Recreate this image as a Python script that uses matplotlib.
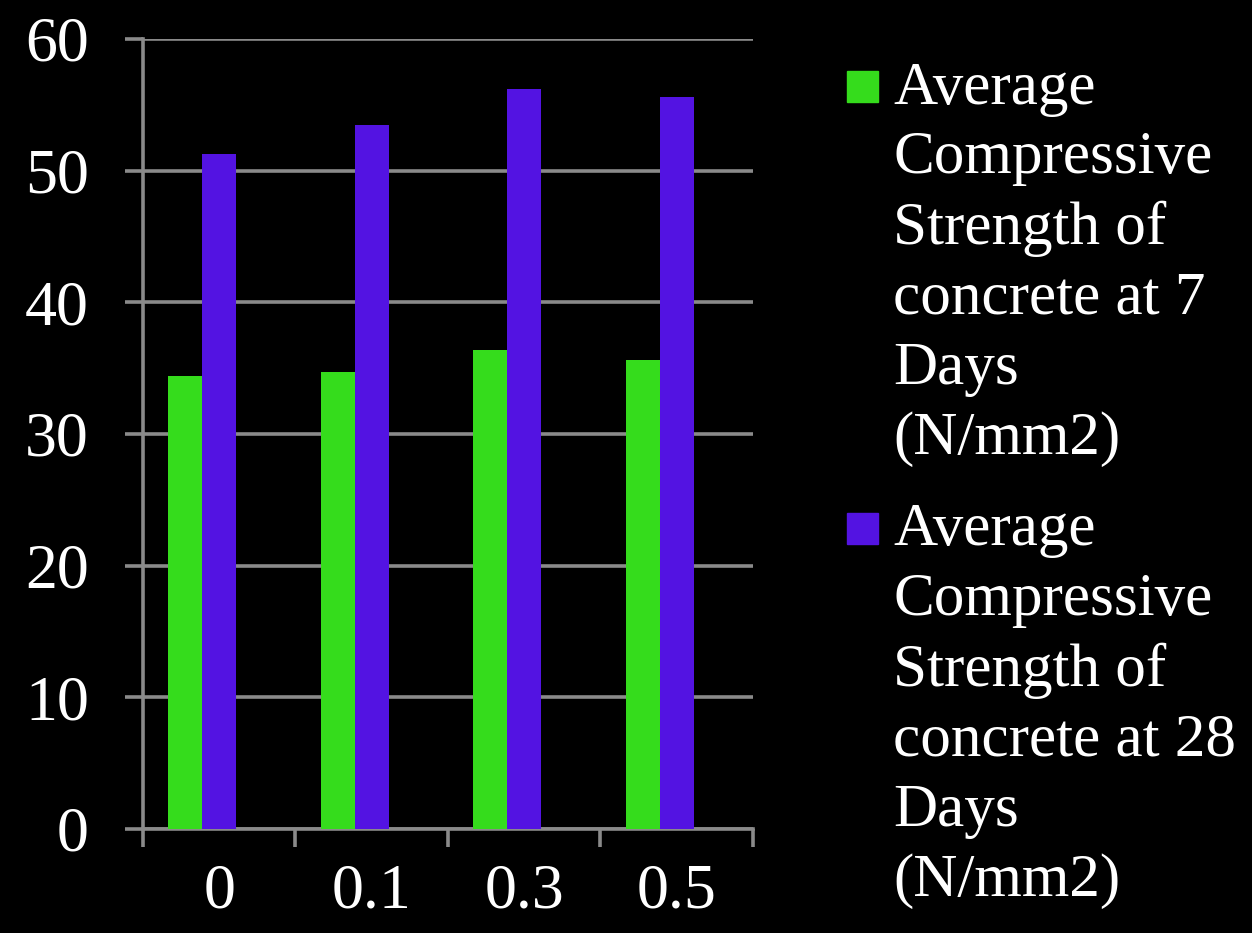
import numpy as np
import matplotlib
import matplotlib.pyplot as plt
from matplotlib.patches import Rectangle

matplotlib.use("Agg")

# Fibre content (%) on the x axis and average strengths in N/mm2
categories = ["0", "0.1", "0.3", "0.5"]
strength7 = [34.4, 34.7, 36.4, 35.6]
strength28 = [51.3, 53.5, 56.2, 55.6]
labels = ["Average\nCompressive\nStrength of\nconcrete at 7\nDays\n(N/mm2)",
          "Average\nCompressive\nStrength of\nconcrete at 28\nDays\n(N/mm2)"]
yTicks = [0, 10, 20, 30, 40, 50, 60]

green = "#35dc1c"
purple = "#5313e2"
grey = "#8a8a8a"

plt.rcParams["font.family"] = ["Liberation Serif", "DejaVu Serif"]

fig = plt.figure(figsize=(12.52, 9.33), dpi=100, facecolor="black")
ax = fig.add_axes([0.1142, 0.1115, 0.4872, 0.8467], facecolor="black")

x = np.arange(len(categories))
width = 0.222 # three slot cluster, third slot empty
ax.bar(x - width, strength7, width, color=green, zorder=3)
ax.bar(x, strength28, width, color=purple, zorder=3)

ax.set_xlim(-0.5, len(categories) - 0.5)
ax.set_ylim(0, 60)

# Gridlines and axes in grey
ax.set_yticks(yTicks)
ax.yaxis.grid(True, color=grey, linewidth=2.6, zorder=1)
ax.set_axisbelow(True)
for side in ["top", "right"]:
  ax.spines[side].set_visible(False)
for side in ["left", "bottom"]:
  ax.spines[side].set_color(grey)
  ax.spines[side].set_linewidth(2.6)

ax.tick_params(axis="y", colors=grey, length=13, width=2.6, pad=26, labelcolor="white", labelsize=46)

# Ticks between groups, labels at group centres
ax.set_xticks(np.arange(len(categories) + 1) - 0.5)
ax.set_xticklabels([])
ax.set_xticks(x, minor=True)
ax.set_xticklabels(categories, minor=True)
ax.tick_params(axis="x", which="major", colors=grey, length=13, width=2.6)
ax.tick_params(axis="x", which="minor", length=0, pad=25, labelcolor="white", labelsize=46)

# Legend built by hand: coloured square plus wrapped text
legendTops = [0.9346, 0.461]
for colour, label, top in zip([green, purple], labels, legendTops):
  fig.patches.append(Rectangle((847 / 1252, top - 0.044), 31 / 1252, 31 / 933,
                               transform=fig.transFigure, color=colour))
  fig.text(893 / 1252, top, label, color="white", fontsize=44, va="top", ha="left",
           linespacing=1.335)

plt.savefig("out.png", dpi=100, facecolor="black")
